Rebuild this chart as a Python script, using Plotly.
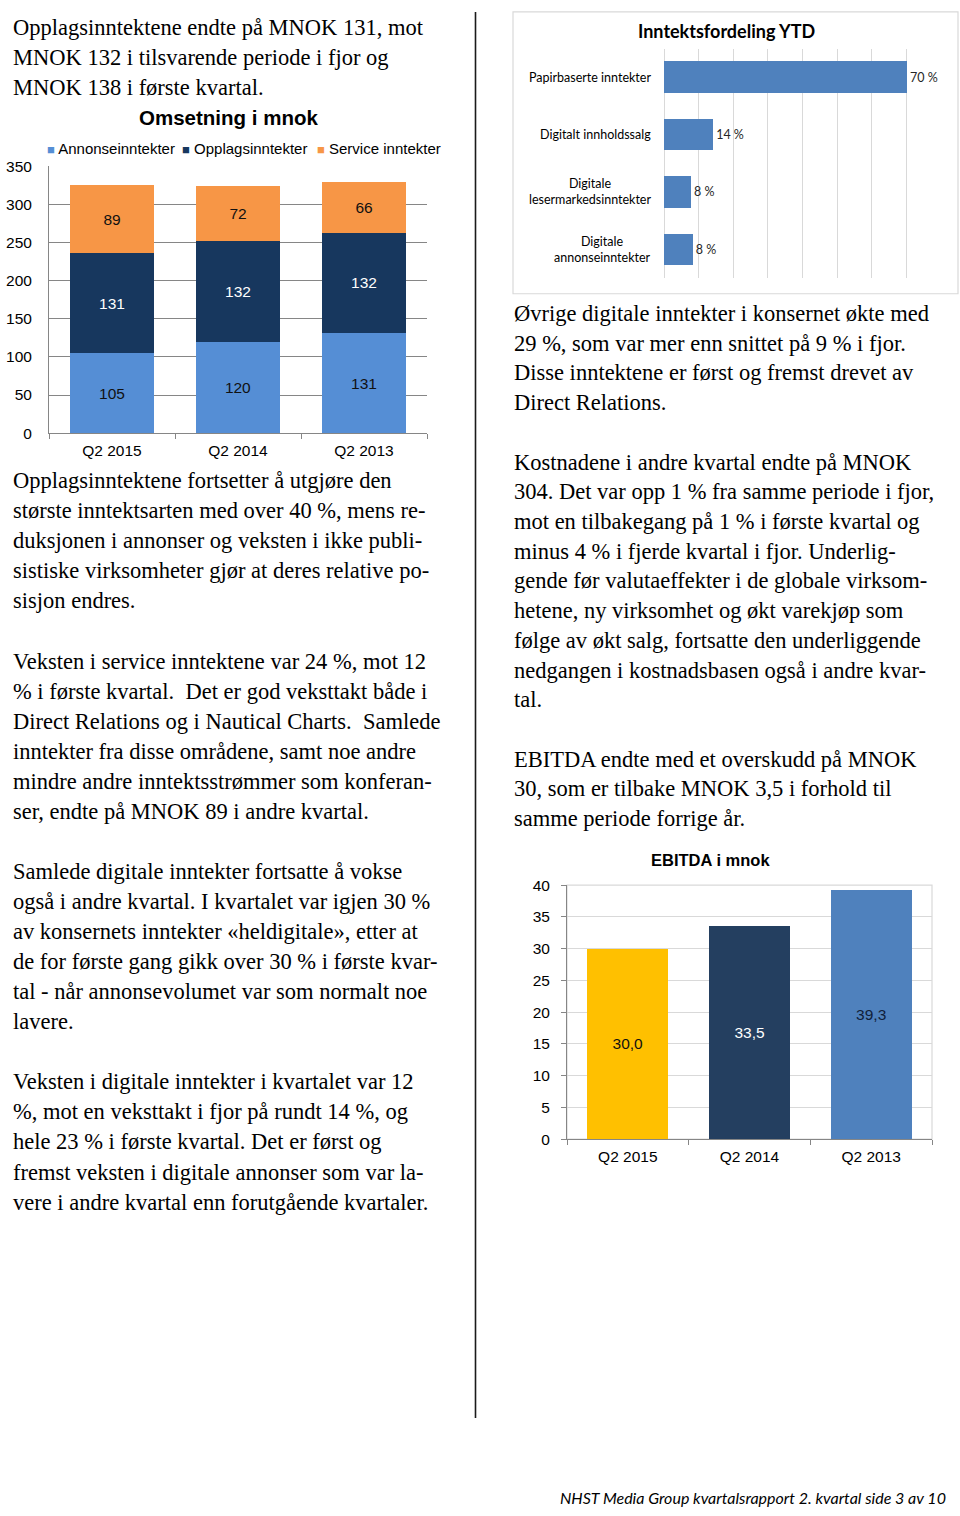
import plotly.graph_objects as go

W, H = 960, 1516


def px(x):
    return x / W


def py(y):
    return 1 - y / H


# ---------------- Chart 1: Omsetning i mnok ----------------
quarters = ["Q2 2015", "Q2 2014", "Q2 2013"]
series_names = ["Annonseinntekter", "Opplagsinntekter", "Service inntekter"]
annonse = [105, 120, 131]
opplag = [131, 132, 132]
service = [89, 72, 66]
series_values = [annonse, opplag, service]
series_colors = ["#558ED5", "#17375E", "#F79646"]
series_label_colors = ["#111111", "#FFFFFF", "#111111"]

# ---------------- Chart 2: Inntektsfordeling YTD ----------------
ytd_categories = [
    "Papirbaserte inntekter",
    "Digitalt innholdssalg",
    "Digitale<br>lesermarkedsinntekter",
    "Digitale<br>annonseinntekter",
]
ytd_shares = [70.2, 14.2, 7.8, 8.3]

# ---------------- Chart 3: EBITDA i mnok ----------------
ebitda = [30.0, 33.5, 39.3]
ebitda_colors = ["#FFC000", "#243F60", "#4F81BD"]
ebitda_label_colors = ["#111111", "#FFFFFF", "#0F1E3A"]

# ---------------- Body text ----------------
NB = "\u00a0"
left_top = [
    "Opplagsinntektene endte på MNOK 131, mot",
    "MNOK 132 i tilsvarende periode i fjor og",
    "MNOK 138 i første kvartal.",
]
left_main = [
    "Opplagsinntektene fortsetter å utgjøre den",
    "største inntektsarten med over 40 %, mens re-",
    "duksjonen i annonser og veksten i ikke publi-",
    "sistiske virksomheter gjør at deres relative po-",
    "sisjon endres.",
    "",
    "Veksten i service inntektene var 24 %, mot 12",
    f"% i første kvartal.{NB} Det er god veksttakt både i",
    f"Direct Relations og i Nautical Charts.{NB} Samlede",
    "inntekter fra disse områdene, samt noe andre",
    "mindre andre inntektsstrømmer som konferan-",
    "ser, endte på MNOK 89 i andre kvartal.",
    "",
    "Samlede digitale inntekter fortsatte å vokse",
    "også i andre kvartal. I kvartalet var igjen 30 %",
    "av konsernets inntekter «heldigitale», etter at",
    "de for første gang gikk over 30 % i første kvar-",
    "tal - når annonsevolumet var som normalt noe",
    "lavere.",
    "",
    "Veksten i digitale inntekter i kvartalet var 12",
    "%, mot en veksttakt i fjor på rundt 14 %, og",
    "hele 23 % i første kvartal. Det er først og",
    "fremst veksten i digitale annonser som var la-",
    "vere i andre kvartal enn forutgående kvartaler.",
]
right_main = [
    "Øvrige digitale inntekter i konsernet økte med",
    "29 %, som var mer enn snittet på 9 % i fjor.",
    "Disse inntektene er først og fremst drevet av",
    "Direct Relations.",
    "",
    "Kostnadene i andre kvartal endte på MNOK",
    "304. Det var opp 1 % fra samme periode i fjor,",
    "mot en tilbakegang på 1 % i første kvartal og",
    "minus 4 % i fjerde kvartal i fjor. Underlig-",
    "gende før valutaeffekter i de globale virksom-",
    "hetene, ny virksomhet og økt varekjøp som",
    "følge av økt salg, fortsatte den underliggende",
    "nedgangen i kostnadsbasen også i andre kvar-",
    "tal.",
    "",
    "EBITDA endte med et overskudd på MNOK",
    "30, som er tilbake MNOK 3,5 i forhold til",
    "samme periode forrige år.",
]
footer = "NHST Media Group kvartalsrapport 2. kvartal side 3 av 10"

SANS = "Liberation Sans, Arial, sans-serif"
SERIF = "Liberation Serif, Times New Roman, serif"
CAL = "Lato, Open Sans, sans-serif"

fig = go.Figure()

# Chart 1 traces
for name, vals, col, lc in zip(series_names, series_values, series_colors, series_label_colors):
    fig.add_trace(go.Bar(
        x=quarters, y=vals, name=name, marker=dict(color=col, line=dict(width=0)),
        width=0.66, texttemplate="%{y}", textposition="inside",
        insidetextanchor="middle", textangle=0,
        textfont=dict(family=SANS, size=15.5, color=lc),
        xaxis="x", yaxis="y", showlegend=False,
    ))

# Chart 2 trace
fig.add_trace(go.Bar(
    x=ytd_shares, y=ytd_categories, orientation="h",
    marker=dict(color="#4F81BD", line=dict(width=0)), width=0.55,
    texttemplate="%{x:.0f} %", textposition="outside", cliponaxis=False,
    textfont=dict(family=CAL, size=12.5, color="#262626"),
    xaxis="x2", yaxis="y2", showlegend=False,
))

# Chart 3 trace
fig.add_trace(go.Bar(
    x=quarters, y=ebitda, marker=dict(color=ebitda_colors, line=dict(width=0)),
    width=0.666, texttemplate="%{y:.1f}", textposition="inside",
    insidetextanchor="middle", textangle=0,
    textfont=dict(family=SANS, size=15.5, color=ebitda_label_colors),
    xaxis="x3", yaxis="y3", showlegend=False,
))

annotations = []
shapes = []

# Chart 1 title + legend
annotations.append(dict(text="<b>Omsetning i mnok</b>", x=px(228), y=py(110), xref="paper", yref="paper",
                        xanchor="center", yanchor="middle",
                        showarrow=False, font=dict(family=SANS, size=20.5, color="#000000")))
legend_x = [45, 180, 315]
for name, col, lx in zip(series_names, series_colors, legend_x):
    annotations.append(dict(
        text=f"<span style='color:{col};font-size:13px'>■</span> {name}",
        x=px(lx), y=py(141), xref="paper", yref="paper", xanchor="left", yanchor="middle",
        showarrow=False, font=dict(family=SANS, size=15, color="#000000")))

# Chart 2 title, labels, frame
annotations.append(dict(text="<b>Inntektsfordeling YTD</b>", x=px(726), y=py(22), xref="paper", yref="paper",
                        xanchor="center", yanchor="middle",
                        showarrow=False, font=dict(family=CAL, size=18, color="#000000")))
for cat in ytd_categories:
    annotations.append(dict(text=cat, x=px(653), y=cat, xref="paper", yref="y2", xanchor="right",
                            yanchor="middle", align="center", showarrow=False,
                            font=dict(family=CAL, size=12.5, color="#000000")))
shapes.append(dict(type="rect", xref="paper", yref="paper", x0=px(513), x1=px(958), y0=py(288), y1=py(3),
                   line=dict(color="#D9D9D9", width=1.2), layer="below"))

# Chart 3 title + plot frame
annotations.append(dict(text="<b>EBITDA i mnok</b>", x=px(710), y=py(861), xref="paper", yref="paper",
                        xanchor="center", yanchor="middle",
                        showarrow=False, font=dict(family=SANS, size=16.5, color="#000000")))
shapes.append(dict(type="rect", xref="x3 domain", yref="y3 domain", x0=0, x1=1, y0=0, y1=1,
                   line=dict(color="#D9D9D9", width=1.2), layer="below"))

# Column divider
shapes.append(dict(type="line", xref="paper", yref="paper", x0=px(475.5), x1=px(475.5), y0=py(3), y1=py(1425),
                   line=dict(color="#1A1A1A", width=1.6)))


def add_lines(lines, x0, y0, step):
    for i, line in enumerate(lines):
        if not line:
            continue
        annotations.append(dict(text=line, x=px(x0), y=py(y0 + i * step), xref="paper", yref="paper",
                                xanchor="left", yanchor="middle", align="left", showarrow=False,
                                font=dict(family=SERIF, size=22.5, color="#000000")))


add_lines(left_top, 11, 19, 30.0)
add_lines(left_main, 11, 477, 30.4)
add_lines(right_main, 512, 308, 30.05)

annotations.append(dict(text=f"<i>{footer}</i>", x=px(948), y=py(1505), xref="paper", yref="paper",
                        xanchor="right", yanchor="middle", showarrow=False,
                        font=dict(family=CAL, size=16, color="#000000")))

GRID_DARK = "#868686"
GRID_LIGHT = "#D9D9D9"

fig.update_layout(
    width=W, height=H, autosize=False,
    margin=dict(l=0, r=0, t=0, b=0, pad=0),
    paper_bgcolor="#FFFFFF", plot_bgcolor="rgba(0,0,0,0)",
    barmode="stack", showlegend=False, separators=",.",
    font=dict(family=SANS, color="#000000"),
    annotations=annotations, shapes=shapes,
    xaxis=dict(domain=[px(49), px(427)], anchor="y", type="category", categoryorder="array",
               categoryarray=quarters, showline=True, linecolor=GRID_DARK, linewidth=1,
               ticks="outside", tickson="boundaries", ticklen=5, tickcolor=GRID_DARK,
               tickfont=dict(family=SANS, size=15.5, color="#000000"), showgrid=False,
               ticklabelstandoff=3, fixedrange=True),
    yaxis=dict(domain=[py(429), py(159)], anchor="x", range=[0, 350], dtick=50, tick0=0,
               showgrid=True, gridcolor=GRID_DARK, gridwidth=1, showline=True, linecolor=GRID_DARK,
               zeroline=False, ticks="", tickfont=dict(family=SANS, size=15.5, color="#000000"),
               ticklabelstandoff=13, fixedrange=True),
    xaxis2=dict(domain=[px(664), px(941)], anchor="y2", range=[0, 80], dtick=10, tick0=0,
                showticklabels=False, showgrid=True, gridcolor=GRID_LIGHT, gridwidth=1,
                zeroline=True, zerolinecolor=GRID_LIGHT, zerolinewidth=1, showline=False,
                fixedrange=True),
    yaxis2=dict(domain=[py(272), py(40)], anchor="x2", type="category", categoryorder="array",
                categoryarray=ytd_categories, autorange="reversed", showticklabels=False,
                showgrid=False, showline=False, zeroline=False, fixedrange=True),
    xaxis3=dict(domain=[px(567), px(932)], anchor="y3", type="category", categoryorder="array",
                categoryarray=quarters, showline=True, linecolor=GRID_DARK, linewidth=1,
                ticks="outside", tickson="boundaries", ticklen=5, tickcolor=GRID_DARK,
                tickfont=dict(family=SANS, size=15.5, color="#000000"), showgrid=False,
                ticklabelstandoff=3, fixedrange=True),
    yaxis3=dict(domain=[py(1143), py(886)], anchor="x3", range=[0, 40], dtick=5, tick0=0,
                showgrid=True, gridcolor=GRID_LIGHT, gridwidth=1, showline=True, linecolor=GRID_DARK,
                zeroline=False, ticks="outside", ticklen=5, tickcolor=GRID_DARK,
                tickfont=dict(family=SANS, size=15.5, color="#000000"), ticklabelstandoff=8,
                fixedrange=True),
)

page_fix = (
    "var de=document.documentElement, b=document.body;"
    "de.style.margin='0';de.style.padding='0';de.style.overflow='hidden';"
    "b.style.margin='0';b.style.padding='0';b.style.overflow='hidden';"
    "var gd=document.querySelector('.plotly-graph-div');"
    "if(gd){gd.style.position='fixed';gd.style.top='0px';gd.style.left='0px';}"
)

fig.write_html(
    "out.html",
    config={"displayModeBar": False, "responsive": False},
    post_script=page_fix,
)
